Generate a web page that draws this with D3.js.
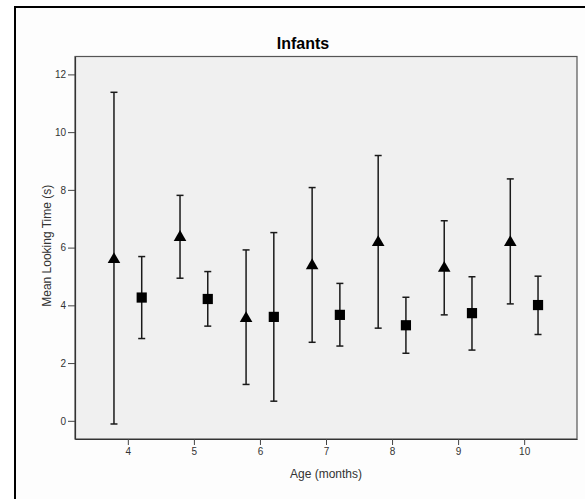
<!DOCTYPE html>
<html>
<head>
<meta charset="utf-8">
<script src="https://cdn.jsdelivr.net/npm/d3@7"></script>
<style>
  html, body { margin: 0; padding: 0; background: #ffffff; }
  svg { display: block; }
</style>
</head>
<body>
<svg id="chart" width="585" height="499"></svg>
<script>
const ages = [4, 5, 6, 7, 8, 9, 10];
const triMean = [5.65, 6.42, 3.61, 5.44, 6.24, 5.35, 6.24];
const triLow  = [-0.11, 4.94, 1.26, 2.72, 3.21, 3.67, 4.05];
const triHigh = [11.38, 7.81, 5.92, 8.08, 9.19, 6.93, 8.38];
const sqMean  = [4.27, 4.22, 3.60, 3.67, 3.31, 3.73, 4.01];
const sqLow   = [2.85, 3.28, 0.68, 2.59, 2.34, 2.45, 2.99];
const sqHigh  = [5.69, 5.17, 6.52, 4.76, 4.28, 4.99, 5.01];
const yTicks = [0, 2, 4, 6, 8, 10, 12];
const xTicks = [4, 5, 6, 7, 8, 9, 10];
const title = "Infants";
const xTitle = "Age (months)";
const yTitle = "Mean Looking Time (s)";

const svg = d3.select("#chart");
const plot = { left: 75, right: 577, top: 56.5, bottom: 439 };
const offset = 0.21;
const font = "Liberation Sans, Arial, sans-serif";

// outer frame
svg.append("rect").attr("x", 0).attr("y", 0).attr("width", 585).attr("height", 499).attr("fill", "#ffffff");
svg.append("rect").attr("x", 15).attr("y", 7).attr("width", 700).attr("height", 700)
  .attr("fill", "#fdfdfd").attr("stroke", "#000").attr("stroke-width", 2);

const x = d3.scaleLinear().domain([3.2, 10.8]).range([plot.left, plot.right]);
const y = d3.scaleLinear().domain([-0.63, 12.62]).range([plot.bottom, plot.top]);

svg.append("rect")
  .attr("x", plot.left).attr("y", plot.top)
  .attr("width", plot.right - plot.left).attr("height", plot.bottom - plot.top)
  .attr("fill", "#f0f0f0").attr("stroke", "#555").attr("stroke-width", 1.2);

// axes
const xAxis = svg.append("g").attr("transform", `translate(0,${plot.bottom})`)
  .call(d3.axisBottom(x).tickValues(xTicks).tickSizeInner(6).tickSizeOuter(0).tickPadding(3).tickFormat(d3.format("d")));
const yAxis = svg.append("g").attr("transform", `translate(${plot.left},0)`)
  .call(d3.axisLeft(y).tickValues(yTicks).tickSizeInner(7).tickSizeOuter(0).tickPadding(2).tickFormat(d3.format("d")));
[xAxis, yAxis].forEach(a => {
  a.select(".domain").attr("stroke", "#333").attr("stroke-width", 1.2);
  a.selectAll(".tick line").attr("stroke", "#444").attr("stroke-width", 1);
  a.selectAll(".tick text").attr("fill", "#333").style("font-family", font).style("font-size", "10px");
});

// titles
svg.append("text").attr("x", 303).attr("y", 49).attr("text-anchor", "middle")
  .style("font-family", font).style("font-size", "16px").style("font-weight", "bold")
  .attr("fill", "#000").text(title);
svg.append("text").attr("x", 326).attr("y", 478).attr("text-anchor", "middle")
  .style("font-family", font).style("font-size", "12px")
  .attr("fill", "#333").text(xTitle);
svg.append("text").attr("transform", `translate(51,${(plot.top + plot.bottom) / 2 - 2}) rotate(-90)`)
  .attr("text-anchor", "middle")
  .style("font-family", font).style("font-size", "12px")
  .attr("fill", "#333").text(yTitle);

function drawSeries(means, lows, highs, dx, shape) {
  const g = svg.append("g");
  ages.forEach((a, i) => {
    const cx = x(a + dx);
    const gi = g.append("g");
    gi.append("line").attr("x1", cx).attr("x2", cx).attr("y1", y(lows[i])).attr("y2", y(highs[i]))
      .attr("stroke", "#1a1a1a").attr("stroke-width", 1.5);
    [lows[i], highs[i]].forEach(v => {
      gi.append("line").attr("x1", cx - 3.5).attr("x2", cx + 3.5).attr("y1", y(v)).attr("y2", y(v))
        .attr("stroke", "#1a1a1a").attr("stroke-width", 1.5);
    });
    const cy = y(means[i]);
    if (shape === "tri") {
      const w = 6.3, h = 5.4;
      gi.append("path").attr("d", `M${cx},${cy - h}L${cx + w},${cy + h}L${cx - w},${cy + h}Z`).attr("fill", "#000");
    } else {
      const s = 5.1;
      gi.append("rect").attr("x", cx - s).attr("y", cy - s).attr("width", 2 * s).attr("height", 2 * s).attr("fill", "#000");
    }
  });
}
drawSeries(triMean, triLow, triHigh, -offset, "tri");
drawSeries(sqMean, sqLow, sqHigh, offset, "sq");
</script>
</body>
</html>
